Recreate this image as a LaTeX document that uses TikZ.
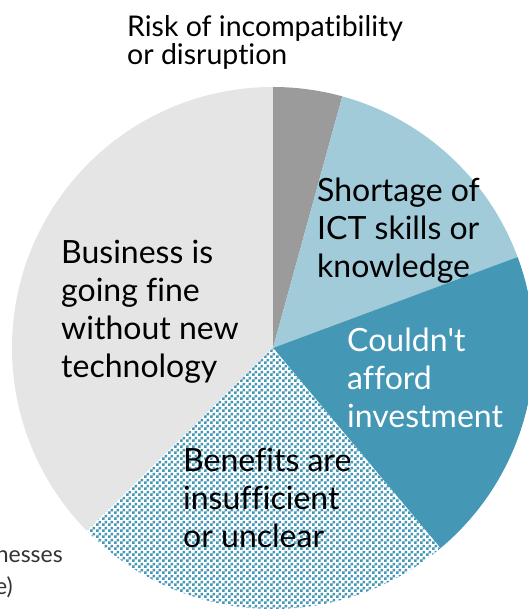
\documentclass[tikz,border=0pt]{standalone}
\usepackage{fontspec}
\setmainfont{Lato}[Ligatures=NoCommon]
\usetikzlibrary{patterns}
\definecolor{paleGrey}{HTML}{E5E5E5}
\definecolor{midGrey}{HTML}{9B9B9C}
\definecolor{skyBlue}{HTML}{A1CBD9}
\definecolor{seaBlue}{HTML}{4498B6}
\definecolor{noteGrey}{HTML}{333333}
\pgfdeclarepatternformonly{checks}{\pgfpointorigin}{\pgfqpoint{6pt}{6pt}}{\pgfqpoint{6pt}{6pt}}{%
\pgfpathrectangle{\pgfpointorigin}{\pgfqpoint{3pt}{3pt}}%
\pgfpathrectangle{\pgfqpoint{3pt}{3pt}}{\pgfqpoint{3pt}{3pt}}%
\pgfusepath{fill}}
\begin{document}
\begin{tikzpicture}[x=1pt,y=1pt,
lbl/.style={anchor=base west,align=left,inner sep=0pt,font=\fontsize{32}{38}\selectfont},
note/.style={anchor=base east,inner sep=0pt,text=noteGrey,font=\fontsize{23}{32}\selectfont}]
\useasboundingbox(0,0)rectangle(527,609);
\pgfmathsetmacro{\r}{261};
\coordinate(c)at(273,261);
\fill[paleGrey](c)--++(90:\r)arc(90:224.5:\r)--cycle;
\fill[midGrey](c)--++(74.6:\r)arc(74.6:90:\r)--cycle;
\fill[skyBlue](c)--++(20.4:\r)arc(20.4:74.6:\r)--cycle;
\fill[seaBlue](c)--++(-50.1:\r)arc(-50.1:20.4:\r)--cycle;
\fill[white](c)--++(224.5:\r)arc(224.5:309.9:\r)--cycle;
\fill[pattern=checks,pattern color=seaBlue](c)--++(224.5:\r)arc(224.5:309.9:\r)--cycle;
% last line baselines
\node[lbl,font=\fontsize{28.5}{28}\selectfont](risk)at(127,544){Risk of incompatibility\\or disruption};
\node[lbl](skills)at(317,331){Shortage of\\ICT skills or\\knowledge};
\node[lbl](fine)at(61,231){Business is\\going fine\\without new\\technology};
\node[lbl,text=white](afford)at(347,181){Couldn\textquotesingle t\\afford\\investment};
\node[lbl](unclear)at(183,61){Benefits are\\insufficient\\or unclear};
\node[note](noteA)at(63,46){nesses};
\node[note](noteB)at(13,14){e)};
\end{tikzpicture}
\end{document}
